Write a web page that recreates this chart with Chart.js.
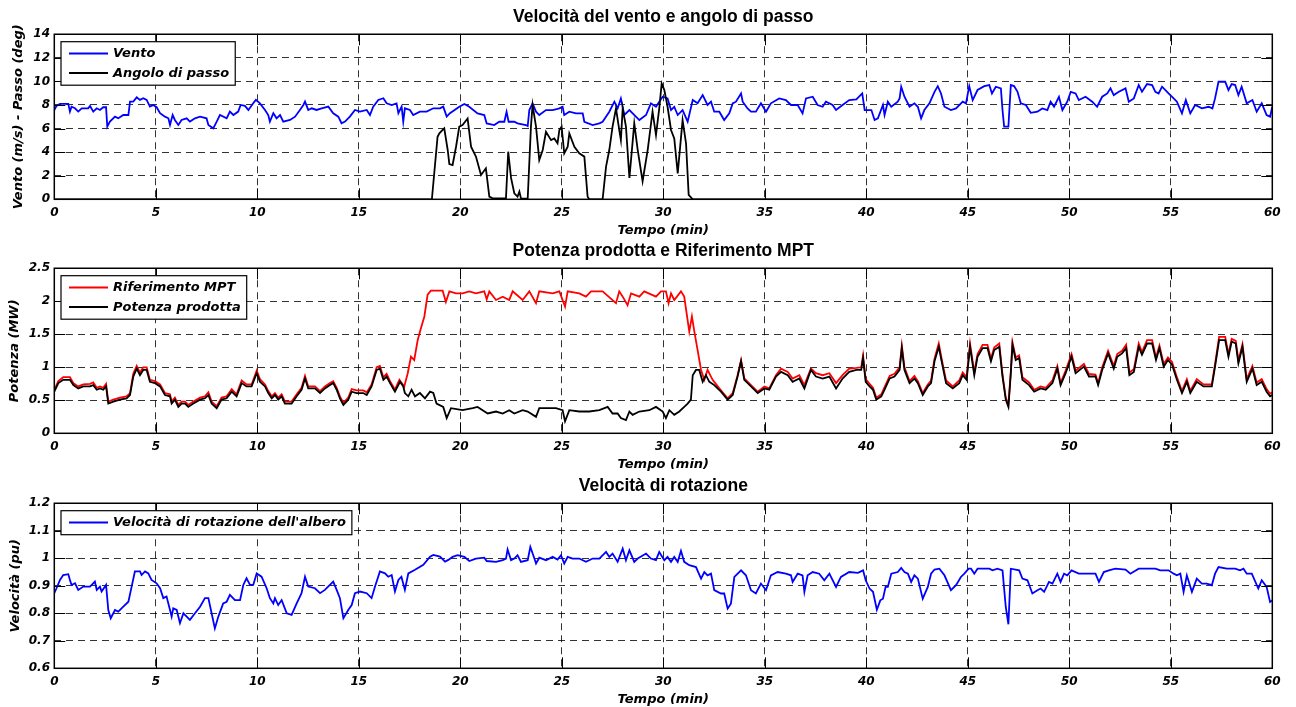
<!DOCTYPE html>
<html>
<head>
<meta charset="utf-8">
<title>Turbina eolica – vento, passo, potenza e velocità</title>
<script src="https://cdn.jsdelivr.net/npm/chart.js@4.4.1/dist/chart.umd.min.js"></script>
<style>
  html, body { margin: 0; padding: 0; background: #fff; width: 1296px; height: 707px; overflow: hidden; position: relative; }
  canvas { position: absolute; left: 0; }
</style>
</head>
<body>
<canvas id="panelWind" width="1296" height="239" style="top:0px"></canvas>
<canvas id="panelPower" width="1296" height="239" style="top:234px"></canvas>
<canvas id="panelSpeed" width="1296" height="239" style="top:469px"></canvas>
<script>
// ---- Data: [time (min), value] ----
const windSpeed = [
  [0,7.58],[0.11,7.92],[0.28,8.09],[0.69,8.09],[0.77,7.44],[0.85,7.86],[1.02,7.72],[1.18,7.44],[1.35,7.72],[1.67,7.72],
  [1.76,7.92],[1.92,7.44],[2.09,7.72],[2.25,7.58],[2.41,7.81],[2.55,7.81],[2.61,6.17],[2.74,6.59],[2.99,7.01],[3.15,6.87],
  [3.40,7.15],[3.65,7.15],[3.73,8.29],[3.89,8.29],[4.06,8.65],[4.22,8.43],[4.38,8.57],[4.55,8.43],[4.71,7.86],[4.88,8.0],
  [5.04,7.81],[5.21,7.30],[5.45,7.01],[5.62,6.87],[5.70,6.31],[5.83,7.15],[5.94,6.73],[6.11,6.31],[6.27,6.73],[6.52,6.87],
  [6.68,6.59],[6.93,6.87],[7.18,7.01],[7.50,6.87],[7.59,6.31],[7.83,6.02],[8.0,6.59],[8.16,7.15],[8.49,6.87],[8.65,7.44],
  [8.82,7.15],[9.06,7.44],[9.18,8.0],[9.39,7.92],[9.56,7.58],[9.80,8.14],[9.93,8.43],[10.13,8.14],[10.38,7.58],[10.54,7.15],
  [10.62,6.59],[10.79,7.30],[10.95,6.87],[11.12,7.15],[11.28,6.59],[11.61,6.73],[11.86,7.01],[12.10,7.58],[12.27,8.0],[12.35,8.29],
  [12.51,7.58],[12.68,7.72],[12.92,7.58],[13.17,7.72],[13.50,7.86],[13.74,7.30],[13.99,7.01],[14.15,6.45],[14.32,6.59],[14.56,7.01],
  [14.81,7.58],[15.06,7.44],[15.39,7.58],[15.55,7.15],[15.71,7.86],[15.96,8.43],[16.21,8.57],[16.37,8.14],[16.62,8.0],[16.86,8.14],
  [16.95,7.30],[17.11,7.86],[17.19,6.59],[17.27,7.72],[17.52,7.58],[17.68,7.15],[18.01,7.44],[18.34,7.44],[18.67,7.72],[19.0,7.72],
  [19.16,7.86],[19.33,7.01],[19.49,7.30],[19.95,7.85],[20.20,8.08],[20.44,7.85],[20.85,7.29],[21.18,7.15],[21.30,6.44],[21.67,6.30],
  [21.92,6.58],[22.17,6.58],[22.28,7.43],[22.38,6.58],[22.66,6.58],[22.82,6.44],[23.23,6.30],[23.32,6.21],[23.40,7.57],[23.56,8.14],
  [23.73,7.43],[23.89,7.15],[24.22,7.57],[24.55,7.57],[24.88,7.71],[25.04,7.85],[25.12,7.15],[25.37,7.43],[25.70,7.29],[26.03,7.29],
  [26.11,6.58],[26.52,6.30],[26.85,6.44],[27.01,6.58],[27.34,7.43],[27.59,8.28],[27.75,7.71],[27.91,8.56],[28.08,7.15],[28.33,7.57],
  [28.49,7.29],[28.82,6.72],[29.15,7.15],[29.39,8.14],[29.64,7.85],[29.80,8.28],[29.97,8.70],[30.21,8.56],[30.38,7.57],[30.54,7.85],
  [30.71,7.15],[30.95,7.57],[31.20,6.58],[31.45,8.42],[31.69,8.14],[31.94,8.84],[32.18,8.0],[32.35,8.28],[32.51,7.43],[32.76,7.43],
  [33.0,6.72],[33.25,7.29],[33.42,8.14],[33.58,8.28],[33.83,8.98],[33.91,8.28],[34.15,7.71],[34.32,7.43],[34.56,7.43],[34.81,8.14],
  [35.06,7.43],[35.30,8.14],[35.71,8.56],[36.04,8.42],[36.29,8.0],[36.62,8.0],[36.86,7.29],[37.03,8.56],[37.36,8.70],[37.60,8.0],
  [37.85,7.85],[38.01,8.28],[38.34,8.0],[38.51,7.57],[38.83,8.0],[39.16,8.42],[39.51,8.47],[39.80,8.98],[39.92,7.57],[40.25,7.57],
  [40.41,6.72],[40.57,6.86],[40.82,8.0],[40.90,7.15],[41.06,8.28],[41.23,7.85],[41.55,8.28],[41.64,8.56],[41.72,9.55],[41.88,8.70],
  [42.13,7.85],[42.37,8.14],[42.54,7.85],[42.70,6.86],[42.86,7.57],[43.11,8.14],[43.36,9.12],[43.52,9.60],[43.68,8.98],[43.85,7.85],
  [44.17,7.57],[44.42,7.71],[44.75,8.28],[44.91,8.14],[45.07,9.60],[45.24,8.42],[45.48,9.27],[45.81,9.60],[46.06,9.69],[46.19,8.98],
  [46.38,9.55],[46.63,9.41],[46.71,7.57],[46.79,6.16],[47.00,6.16],[47.12,9.69],[47.28,9.60],[47.45,9.12],[47.61,8.14],[47.86,8.0],
  [48.10,7.34],[48.43,7.43],[48.67,7.71],[48.92,7.57],[49.08,8.28],[49.25,7.85],[49.49,8.70],[49.66,7.57],[49.90,8.28],[50.07,9.12],
  [50.31,8.98],[50.47,8.42],[50.80,8.70],[51.13,8.28],[51.37,7.85],[51.62,8.70],[51.87,8.98],[52.03,9.41],[52.19,8.84],[52.44,9.12],
  [52.77,9.41],[52.93,8.28],[53.18,8.56],[53.42,9.69],[53.58,9.12],[53.83,9.77],[54.08,9.69],[54.24,9.12],[54.40,8.98],[54.57,9.55],
  [54.89,8.98],[55.14,8.56],[55.30,8.28],[55.55,7.29],[55.74,8.42],[55.96,7.29],[56.20,8.0],[56.53,7.71],[56.86,7.85],[57.05,7.71],
  [57.18,8.56],[57.35,9.97],[57.68,9.97],[57.84,9.27],[58.00,9.77],[58.17,9.69],[58.33,8.84],[58.49,9.55],[58.74,8.14],[59.02,8.42],
  [59.23,7.43],[59.48,8.14],[59.72,7.15],[59.89,7.01],[60.0,7.85]
];

const pitchAngle = [
  [0,0],[18.60,0],[18.88,5.31],[18.97,5.59],[19.13,5.88],[19.21,6.02],[19.38,4.18],[19.46,2.99],[19.62,2.91],[19.79,4.46],
  [19.95,6.16],[20.11,6.30],[20.36,6.86],[20.53,4.46],[20.77,3.62],[21.02,2.06],[21.26,2.63],[21.43,0.23],[21.59,0.08],[22.17,0.08],
  [22.25,0.10],[22.36,4.04],[22.50,1.81],[22.66,0.51],[22.82,0.23],[22.91,0.65],[22.99,0.08],[23.32,0.05],[23.48,6.16],[23.56,8.0],
  [23.73,6.16],[23.89,3.33],[24.06,4.18],[24.22,5.73],[24.47,5.02],[24.63,5.16],[24.79,4.75],[24.88,5.88],[24.99,6.16],[25.12,3.90],
  [25.29,4.46],[25.37,5.59],[25.62,4.46],[25.86,3.90],[26.11,3.62],[26.27,0.23],[26.35,0],[27.01,0],[27.18,2.77],[27.34,4.18],
  [27.50,6.16],[27.67,7.71],[27.83,5.88],[27.91,5.02],[28.0,7.71],[28.16,6.16],[28.33,1.81],[28.49,4.89],[28.57,6.44],[28.74,4.18],
  [28.98,1.53],[29.23,4.18],[29.47,7.43],[29.64,5.45],[29.80,7.71],[29.92,9.83],[30.05,9.27],[30.21,7.85],[30.38,5.88],[30.54,5.16],
  [30.71,2.20],[30.95,6.72],[31.12,4.75],[31.25,0.37],[31.45,0],[60,0]
];

const powerReference = [
  [0,0.66],[0.20,0.79],[0.44,0.85],[0.77,0.85],[0.94,0.76],[1.18,0.71],[1.43,0.74],[1.76,0.75],[1.92,0.77],[2.09,0.69],
  [2.25,0.71],[2.41,0.69],[2.55,0.75],[2.66,0.48],[2.91,0.51],[3.23,0.54],[3.56,0.56],[3.73,0.61],[3.89,0.90],[4.06,1.02],
  [4.22,0.92],[4.38,1.00],[4.55,1.00],[4.71,0.81],[4.96,0.79],[5.21,0.74],[5.45,0.61],[5.70,0.59],[5.78,0.48],[5.94,0.54],
  [6.11,0.43],[6.27,0.48],[6.44,0.48],[6.60,0.43],[6.85,0.48],[7.18,0.54],[7.42,0.56],[7.59,0.62],[7.75,0.48],[8.0,0.41],
  [8.24,0.54],[8.49,0.56],[8.74,0.67],[8.98,0.59],[9.23,0.80],[9.47,0.74],[9.72,0.74],[9.97,0.95],[10.13,0.82],[10.38,0.74],
  [10.54,0.64],[10.71,0.56],[10.87,0.61],[11.03,0.54],[11.20,0.59],[11.36,0.48],[11.69,0.48],[11.94,0.59],[12.18,0.69],[12.35,0.87],
  [12.51,0.71],[12.84,0.71],[13.09,0.64],[13.33,0.71],[13.58,0.76],[13.74,0.79],[13.91,0.69],[14.07,0.56],[14.24,0.46],[14.48,0.54],
  [14.65,0.67],[14.89,0.65],[15.22,0.65],[15.39,0.62],[15.63,0.74],[15.88,1.00],[16.04,1.02],[16.21,0.85],[16.37,0.90],[16.54,0.79],
  [16.78,0.66],[17.0,0.81],[17.24,0.71],[17.41,0.91],[17.57,1.16],[17.73,1.11],[17.90,1.41],[18.06,1.59],[18.23,1.77],[18.39,2.10],
  [18.55,2.16],[19.13,2.16],[19.29,1.99],[19.46,2.15],[19.79,2.12],[20.11,2.12],[20.44,2.15],[20.77,2.12],[21.18,2.15],[21.30,2.03],
  [21.43,2.15],[21.76,2.02],[22.09,2.07],[22.41,2.02],[22.58,2.15],[23.07,2.02],[23.40,2.15],[23.73,1.97],[23.89,2.15],[24.55,2.12],
  [24.88,2.15],[25.16,1.92],[25.29,2.15],[25.86,2.12],[26.19,2.07],[26.44,2.15],[27.01,2.15],[27.67,1.97],[27.83,2.15],[28.0,2.07],
  [28.24,1.94],[28.41,2.12],[28.82,2.07],[29.06,2.15],[29.64,2.07],[29.89,2.15],[30.13,2.15],[30.26,1.97],[30.38,2.12],[30.54,2.02],
  [30.87,2.15],[31.03,2.07],[31.28,1.54],[31.41,1.77],[31.53,1.54],[31.69,1.26],[31.86,0.96],[32.02,0.81],[32.18,0.96],[32.43,0.81],
  [32.76,0.68],[33.17,0.53],[33.42,0.61],[33.66,0.88],[33.83,1.11],[33.99,0.83],[34.32,0.73],[34.65,0.63],[34.98,0.71],[35.22,0.68],
  [35.55,0.88],[35.80,0.98],[36.13,0.93],[36.37,0.83],[36.70,0.88],[36.95,0.73],[37.27,0.98],[37.52,0.91],[37.85,0.88],[38.18,0.91],
  [38.51,0.76],[38.83,0.88],[39.16,0.98],[39.51,0.99],[39.75,1.00],[39.84,1.18],[39.97,0.82],[40.16,0.75],[40.33,0.69],[40.49,0.54],
  [40.74,0.59],[40.90,0.70],[41.15,0.87],[41.39,0.90],[41.64,1.00],[41.75,1.33],[41.88,1.00],[42.13,0.79],[42.37,0.87],[42.54,0.79],
  [42.78,0.61],[43.03,0.74],[43.19,0.80],[43.36,1.13],[43.57,1.36],[43.73,1.10],[43.93,0.80],[44.26,0.71],[44.58,0.80],[44.75,0.92],
  [44.94,0.85],[45.11,1.36],[45.32,0.92],[45.48,1.20],[45.73,1.34],[45.97,1.34],[46.14,1.13],[46.30,1.30],[46.55,1.36],[46.71,0.89],
  [46.87,0.54],[47.00,0.43],[47.12,0.95],[47.20,1.38],[47.36,1.15],[47.53,1.18],[47.69,0.85],[48.02,0.77],[48.27,0.66],[48.59,0.71],
  [48.84,0.69],[49.17,0.80],[49.41,1.02],[49.57,0.76],[49.82,0.95],[50.11,1.20],[50.31,0.95],[50.72,1.05],[50.97,0.90],[51.29,0.89],
  [51.42,0.76],[51.62,1.00],[51.91,1.25],[52.19,1.02],[52.36,1.20],[52.60,1.25],[52.80,1.34],[52.96,0.92],[53.18,0.97],[53.42,1.36],
  [53.58,1.23],[53.83,1.41],[54.08,1.41],[54.27,1.15],[54.44,1.33],[54.65,1.05],[54.86,1.15],[55.06,1.08],[55.30,0.85],[55.55,0.64],
  [55.79,0.82],[55.96,0.64],[56.28,0.82],[56.61,0.74],[57.02,0.74],[57.18,1.05],[57.38,1.46],[57.68,1.46],[57.84,1.20],[58.00,1.43],
  [58.20,1.40],[58.33,1.10],[58.53,1.35],[58.74,0.82],[59.02,1.02],[59.23,0.77],[59.48,0.82],[59.72,0.67],[59.89,0.60],[60.0,0.62]
];

const powerOutput = [
  [0,0.63],[0.20,0.76],[0.44,0.81],[0.77,0.81],[0.94,0.73],[1.18,0.68],[1.43,0.71],[1.76,0.71],[1.92,0.73],[2.09,0.66],
  [2.25,0.68],[2.41,0.66],[2.55,0.71],[2.66,0.45],[2.91,0.48],[3.23,0.51],[3.56,0.53],[3.73,0.58],[3.89,0.86],[4.06,0.98],
  [4.22,0.88],[4.38,0.96],[4.55,0.96],[4.71,0.78],[4.96,0.76],[5.21,0.71],[5.45,0.58],[5.70,0.56],[5.78,0.45],[5.94,0.51],
  [6.11,0.40],[6.27,0.45],[6.44,0.45],[6.60,0.40],[6.85,0.45],[7.18,0.51],[7.42,0.53],[7.59,0.58],[7.75,0.45],[8.0,0.38],
  [8.24,0.51],[8.49,0.53],[8.74,0.63],[8.98,0.56],[9.23,0.76],[9.47,0.71],[9.72,0.71],[9.97,0.91],[10.13,0.78],[10.38,0.71],
  [10.54,0.61],[10.71,0.53],[10.87,0.58],[11.03,0.51],[11.20,0.56],[11.36,0.45],[11.69,0.45],[11.94,0.56],[12.18,0.66],[12.35,0.83],
  [12.51,0.68],[12.84,0.68],[13.09,0.61],[13.33,0.68],[13.58,0.73],[13.74,0.76],[13.91,0.66],[14.07,0.53],[14.24,0.43],[14.48,0.51],
  [14.65,0.63],[14.89,0.61],[15.22,0.61],[15.39,0.58],[15.63,0.71],[15.88,0.96],[16.04,0.98],[16.21,0.81],[16.37,0.86],[16.54,0.76],
  [16.78,0.63],[17.03,0.78],[17.19,0.71],[17.27,0.61],[17.44,0.56],[17.60,0.66],[17.77,0.56],[18.01,0.61],[18.26,0.53],[18.51,0.63],
  [18.67,0.61],[18.83,0.45],[19.16,0.40],[19.33,0.23],[19.54,0.38],[20.11,0.35],[20.61,0.38],[20.85,0.40],[21.35,0.30],[21.76,0.33],
  [22.09,0.30],[22.41,0.35],[22.66,0.30],[23.07,0.35],[23.32,0.33],[23.73,0.25],[23.89,0.38],[24.71,0.38],[25.04,0.35],[25.16,0.18],
  [25.37,0.35],[25.86,0.33],[26.35,0.33],[26.85,0.35],[27.26,0.40],[27.50,0.30],[27.75,0.30],[27.91,0.23],[28.16,0.20],[28.33,0.33],
  [28.49,0.28],[28.82,0.33],[29.31,0.35],[29.64,0.40],[29.97,0.33],[30.13,0.23],[30.30,0.35],[30.54,0.28],[30.79,0.33],[31.03,0.40],
  [31.20,0.45],[31.36,0.51],[31.45,0.88],[31.61,0.96],[31.77,0.96],[31.94,0.78],[32.10,0.88],[32.27,0.78],[32.51,0.73],[32.84,0.63],
  [33.17,0.51],[33.42,0.58],[33.66,0.86],[33.83,1.09],[33.99,0.81],[34.32,0.71],[34.65,0.61],[34.98,0.68],[35.22,0.66],[35.55,0.86],
  [35.80,0.93],[36.13,0.88],[36.37,0.78],[36.70,0.83],[36.95,0.68],[37.27,0.96],[37.52,0.86],[37.85,0.83],[38.18,0.86],[38.51,0.68],
  [38.83,0.83],[39.16,0.93],[39.51,0.96],[39.75,0.96],[39.84,1.14],[39.97,0.78],[40.16,0.71],[40.33,0.66],[40.49,0.51],[40.74,0.56],
  [40.90,0.66],[41.15,0.83],[41.39,0.86],[41.64,0.96],[41.75,1.29],[41.88,0.96],[42.13,0.76],[42.37,0.83],[42.54,0.76],[42.78,0.58],
  [43.03,0.71],[43.19,0.76],[43.36,1.09],[43.57,1.31],[43.73,1.06],[43.93,0.76],[44.26,0.68],[44.58,0.76],[44.75,0.88],[44.94,0.81],
  [45.11,1.31],[45.32,0.88],[45.48,1.16],[45.73,1.29],[45.97,1.29],[46.14,1.09],[46.30,1.26],[46.55,1.31],[46.71,0.86],[46.87,0.51],
  [47.00,0.40],[47.12,0.91],[47.20,1.34],[47.36,1.11],[47.53,1.14],[47.69,0.81],[48.02,0.73],[48.27,0.63],[48.59,0.68],[48.84,0.66],
  [49.17,0.76],[49.41,0.98],[49.57,0.73],[49.82,0.91],[50.11,1.16],[50.31,0.91],[50.72,1.01],[50.97,0.86],[51.29,0.86],[51.42,0.73],
  [51.62,0.96],[51.91,1.21],[52.19,0.98],[52.36,1.16],[52.60,1.21],[52.80,1.29],[52.96,0.88],[53.18,0.93],[53.42,1.31],[53.58,1.19],
  [53.83,1.36],[54.08,1.36],[54.27,1.11],[54.44,1.29],[54.65,1.01],[54.86,1.11],[55.06,1.04],[55.30,0.81],[55.55,0.61],[55.79,0.78],
  [55.96,0.61],[56.28,0.78],[56.61,0.71],[57.02,0.71],[57.18,1.01],[57.38,1.41],[57.68,1.41],[57.84,1.16],[58.00,1.39],[58.20,1.36],
  [58.33,1.06],[58.53,1.31],[58.74,0.78],[59.02,0.98],[59.23,0.73],[59.48,0.78],[59.72,0.63],[59.89,0.56],[60.0,0.58]
];

const shaftSpeed = [
  [0,0.873],[0.11,0.891],[0.28,0.921],[0.44,0.939],[0.69,0.942],[0.77,0.921],[0.85,0.903],[1.02,0.909],[1.18,0.885],[1.43,0.897],
  [1.76,0.897],[2.00,0.915],[2.09,0.885],[2.25,0.897],[2.33,0.879],[2.55,0.903],[2.66,0.812],[2.78,0.782],[2.99,0.812],[3.15,0.806],
  [3.40,0.824],[3.65,0.842],[3.81,0.897],[3.97,0.952],[4.22,0.952],[4.30,0.939],[4.47,0.952],[4.63,0.945],[4.79,0.921],[5.04,0.909],
  [5.21,0.891],[5.37,0.855],[5.53,0.861],[5.70,0.812],[5.78,0.788],[5.86,0.818],[6.03,0.812],[6.19,0.764],[6.36,0.800],[6.52,0.788],
  [6.68,0.776],[6.93,0.800],[7.18,0.824],[7.42,0.855],[7.59,0.855],[7.75,0.800],[7.91,0.745],[8.08,0.788],[8.32,0.836],[8.49,0.842],
  [8.65,0.867],[8.90,0.848],[9.15,0.848],[9.31,0.903],[9.47,0.927],[9.64,0.903],[9.80,0.903],[9.97,0.945],[10.21,0.933],[10.46,0.891],
  [10.62,0.855],[10.79,0.836],[10.87,0.855],[11.03,0.830],[11.20,0.848],[11.45,0.800],[11.69,0.794],[11.94,0.836],[12.18,0.873],[12.35,0.933],
  [12.51,0.897],[12.84,0.891],[13.09,0.873],[13.33,0.885],[13.74,0.915],[13.91,0.885],[14.07,0.855],[14.24,0.782],[14.48,0.812],[14.65,0.830],
  [14.81,0.873],[15.06,0.879],[15.39,0.873],[15.63,0.855],[15.80,0.897],[16.04,0.952],[16.29,0.945],[16.45,0.933],[16.62,0.939],[16.78,0.879],
  [16.95,0.921],[17.10,0.933],[17.27,0.885],[17.44,0.945],[17.77,0.958],[18.18,0.976],[18.51,1.006],[18.67,1.012],[19.00,1.006],[19.25,0.988],
  [19.41,0.994],[19.62,1.005],[19.87,1.011],[20.20,1.005],[20.44,0.990],[20.77,0.999],[21.18,1.002],[21.30,0.990],[21.76,0.987],[22.09,0.993],
  [22.25,0.999],[22.33,1.032],[22.50,0.993],[22.66,0.999],[22.82,1.011],[22.99,0.987],[23.32,0.993],[23.45,1.041],[23.65,0.999],[23.73,0.981],
  [23.89,1.002],[24.22,0.993],[24.55,1.005],[24.79,0.995],[24.96,1.011],[25.12,0.981],[25.29,1.005],[25.53,0.999],[25.86,0.999],[26.19,0.987],
  [26.52,0.999],[26.85,0.999],[27.18,1.023],[27.34,1.005],[27.50,1.017],[27.75,0.987],[28.00,1.035],[28.16,0.993],[28.33,1.029],[28.57,0.987],
  [28.74,0.999],[29.15,1.017],[29.39,0.999],[29.64,0.993],[29.80,1.023],[30.05,0.993],[30.21,1.005],[30.38,0.987],[30.54,1.005],[30.71,0.987],
  [30.87,1.027],[31.03,0.987],[31.28,0.975],[31.61,0.968],[31.86,0.926],[32.02,0.950],[32.18,0.938],[32.35,0.944],[32.51,0.884],[32.84,0.872],
  [33.00,0.872],[33.17,0.817],[33.33,0.835],[33.50,0.932],[33.83,0.956],[34.07,0.938],[34.32,0.884],[34.56,0.872],[34.81,0.908],[35.06,0.884],
  [35.30,0.938],[35.63,0.950],[36.04,0.944],[36.29,0.938],[36.37,0.914],[36.62,0.944],[36.86,0.938],[36.95,0.878],[37.11,0.938],[37.36,0.950],
  [37.68,0.944],[37.93,0.920],[38.18,0.944],[38.51,0.896],[38.75,0.932],[39.16,0.950],[39.59,0.947],[39.84,0.956],[39.97,0.920],[40.16,0.890],
  [40.33,0.878],[40.52,0.813],[40.69,0.847],[40.82,0.853],[40.95,0.896],[41.06,0.896],[41.23,0.944],[41.55,0.950],[41.72,0.965],[41.88,0.950],
  [42.05,0.944],[42.21,0.914],[42.37,0.938],[42.54,0.926],[42.78,0.853],[43.03,0.896],[43.19,0.944],[43.36,0.959],[43.60,0.962],[43.85,0.938],
  [44.17,0.884],[44.42,0.902],[44.66,0.932],[44.83,0.944],[45.04,0.962],[45.16,0.962],[45.32,0.944],[45.48,0.962],[46.06,0.962],[46.22,0.956],
  [46.46,0.962],[46.71,0.956],[46.87,0.823],[47.00,0.760],[47.12,0.962],[47.53,0.956],[47.69,0.926],[47.94,0.920],[48.18,0.872],[48.43,0.884],
  [48.59,0.890],[48.76,0.878],[49.00,0.914],[49.17,0.908],[49.41,0.944],[49.57,0.914],[49.74,0.944],[49.90,0.938],[50.11,0.956],[50.47,0.944],
  [50.97,0.944],[51.29,0.944],[51.46,0.914],[51.70,0.950],[51.95,0.956],[52.27,0.962],[52.77,0.959],[53.01,0.944],[53.42,0.962],[53.75,0.962],
  [54.24,0.962],[54.48,0.956],[54.89,0.956],[55.14,0.944],[55.30,0.938],[55.47,0.944],[55.63,0.878],[55.79,0.938],[56.04,0.878],[56.28,0.926],
  [56.53,0.908],[56.78,0.908],[57.02,0.902],[57.18,0.944],[57.35,0.968],[57.76,0.962],[58.17,0.962],[58.41,0.956],[58.58,0.962],[58.74,0.944],
  [58.99,0.944],[59.31,0.890],[59.48,0.920],[59.72,0.896],[59.89,0.841],[60.0,0.847]
];

// ---- Axis ranges ----
const timeTicks = { min: 0, max: 60, step: 5 };
const windAxis  = { min: 0, max: 14, step: 2 };
const powerAxis = { min: 0, max: 2.5, step: 0.5 };
const speedAxis = { min: 0.6, max: 1.2, step: 0.1 };

const TITLE_FONT = '"Liberation Sans", Arial, Helvetica, sans-serif';
const LABEL_FONT = '"DejaVu Sans", Verdana, sans-serif';

// Box around the axes with inward tick marks on all four sides
const axesFrame = {
  id: 'axesFrame',
  afterDraw(chart) {
    const { ctx, chartArea: a, scales: { x, y } } = chart;
    const L = 11;
    ctx.save();
    ctx.strokeStyle = '#000';
    ctx.lineWidth = 1;
    ctx.setLineDash([]);
    ctx.beginPath();
    x.ticks.forEach(t => {
      const px = Math.round(x.getPixelForValue(t.value)) + 0.5;
      ctx.moveTo(px, a.bottom); ctx.lineTo(px, a.bottom - L);
      ctx.moveTo(px, a.top); ctx.lineTo(px, a.top + L);
    });
    y.ticks.forEach(t => {
      const py = Math.round(y.getPixelForValue(t.value)) + 0.5;
      ctx.moveTo(a.left, py); ctx.lineTo(a.left + L, py);
      ctx.moveTo(a.right, py); ctx.lineTo(a.right - L, py);
    });
    ctx.stroke();
    ctx.lineWidth = 1.5;
    ctx.strokeRect(a.left, a.top, a.width, a.height);
    ctx.restore();
  }
};

// Framed legend in the upper-left corner of the axes
const boxLegend = {
  id: 'boxLegend',
  afterDraw(chart, args, opts) {
    const { ctx } = chart;
    const items = chart.data.datasets;
    ctx.save();
    ctx.font = 'italic bold 13px ' + LABEL_FONT;
    const textW = Math.max(...items.map(d => ctx.measureText(d.label).width));
    const left = opts.left, top = opts.top;
    const w = (opts.textX - left) + textW + 6;
    const h = 4.5 + 19.5 * items.length;
    ctx.fillStyle = '#fff';
    ctx.fillRect(left, top, w, h);
    ctx.strokeStyle = '#000';
    ctx.lineWidth = 1.2;
    ctx.strokeRect(left, top, w, h);
    items.forEach((d, i) => {
      const cy = top + 11.8 + 19.5 * i;
      ctx.strokeStyle = d.borderColor;
      ctx.lineWidth = 2;
      ctx.beginPath();
      ctx.moveTo(opts.lineX0, cy);
      ctx.lineTo(opts.lineX1, cy);
      ctx.stroke();
      ctx.fillStyle = '#000';
      ctx.textBaseline = 'middle';
      ctx.textAlign = 'left';
      ctx.fillText(d.label, opts.textX, cy + 0.5);
    });
    ctx.restore();
  }
};

function makePanel(canvasId, cfg) {
  const tickFont = { family: LABEL_FONT, size: 12, weight: 'bold', style: 'italic' };
  const axisTitleFont = { family: LABEL_FONT, size: 13, weight: 'bold', style: 'italic' };
  const n = cfg.series.length;
  return new Chart(document.getElementById(canvasId), {
    type: 'line',
    data: {
      datasets: cfg.series.map((s, i) => ({
        label: s.label,
        data: s.points.map(([x, y]) => ({ x, y })),
        borderColor: s.color,
        backgroundColor: s.color,
        borderWidth: 1.8,
        pointRadius: 0,
        pointHitRadius: 0,
        tension: 0,
        fill: false,
        order: n - i
      }))
    },
    options: {
      responsive: false,
      animation: false,
      devicePixelRatio: 1,
      events: [],
      layout: { padding: { left: 0, right: 23.7, top: 0, bottom: 0.9 } },
      plugins: {
        legend: { display: false },
        tooltip: { enabled: false },
        title: {
          display: true,
          text: cfg.title,
          fullSize: false,
          color: '#000',
          font: { family: TITLE_FONT, size: 17.5, weight: 'bold', lineHeight: 1.1 },
          padding: { top: 7.6, bottom: 7.4 }
        },
        boxLegend: { left: 61, top: 41.7, lineX0: 69, lineX1: 108, textX: 113 }
      },
      scales: {
        x: {
          type: 'linear',
          min: timeTicks.min,
          max: timeTicks.max,
          afterFit(scale) { scale.height = 38.8; },
          ticks: {
            stepSize: timeTicks.step,
            autoSkip: false,
            maxRotation: 0,
            padding: 6,
            color: '#000',
            font: tickFont,
            callback: v => String(v)
          },
          grid: { color: 'rgba(0,0,0,0.8)', lineWidth: 1, drawTicks: false },
          border: { display: false, dash: [7, 5] },
          title: { display: true, text: 'Tempo (min)', color: '#000', font: axisTitleFont, padding: 0 }
        },
        y: {
          type: 'linear',
          min: cfg.yAxis.min,
          max: cfg.yAxis.max,
          afterFit(scale) { scale.width = 54.3; },
          ticks: {
            stepSize: cfg.yAxis.step,
            autoSkip: false,
            padding: 4.3,
            color: '#000',
            font: tickFont,
            callback: v => String(Math.round(v * 100) / 100)
          },
          grid: { color: 'rgba(0,0,0,0.8)', lineWidth: 1, drawTicks: false },
          border: { display: false, dash: [7, 5] },
          title: { display: true, text: cfg.yTitle, color: '#000', font: axisTitleFont, padding: { top: cfg.yTitlePad, bottom: 0 } }
        }
      }
    },
    plugins: [axesFrame, boxLegend]
  });
}

makePanel('panelWind', {
  title: 'Velocità del vento e angolo di passo',
  yTitle: 'Vento (m/s) - Passo (deg)',
  yTitlePad: 10.5,
  yAxis: windAxis,
  series: [
    { label: 'Vento', color: '#0000ff', points: windSpeed },
    { label: 'Angolo di passo', color: '#000000', points: pitchAngle }
  ]
});

makePanel('panelPower', {
  title: 'Potenza prodotta e Riferimento MPT',
  yTitle: 'Potenza (MW)',
  yTitlePad: 6.7,
  yAxis: powerAxis,
  series: [
    { label: 'Riferimento MPT', color: '#ff0000', points: powerReference },
    { label: 'Potenza prodotta', color: '#000000', points: powerOutput }
  ]
});

makePanel('panelSpeed', {
  title: 'Velocità di rotazione',
  yTitle: 'Velocità (pu)',
  yTitlePad: 7.7,
  yAxis: speedAxis,
  series: [
    { label: "Velocità di rotazione dell'albero", color: '#0000ff', points: shaftSpeed }
  ]
});
</script>
</body>
</html>
